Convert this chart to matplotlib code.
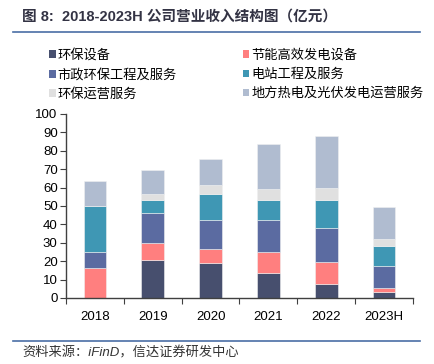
import numpy as np
import matplotlib
matplotlib.use("Agg")
import matplotlib.pyplot as plt
from matplotlib.patches import Patch
from matplotlib.lines import Line2D

plt.rcParams['font.family'] = ['Liberation Sans', 'Noto Sans CJK SC', 'DejaVu Sans']

# 数据（亿元）
years = ['2018', '2019', '2020', '2021', '2022', '2023H']
series_names = ['环保设备', '节能高效发电设备', '市政环保工程及服务',
                '电站工程及服务', '环保运营服务', '地方热电及光伏发电运营服务']
env_equip = [0.0, 20.7, 19.2, 13.8, 7.8, 3.4]
power_equip = [16.5, 9.2, 7.4, 11.0, 11.6, 2.2]
municipal = [8.7, 16.5, 15.6, 17.8, 18.5, 11.6]
station = [25.0, 7.0, 14.5, 10.7, 15.5, 11.2]
operation = [0.0, 3.1, 4.7, 5.9, 6.4, 3.7]
local_power = [13.6, 12.9, 14.3, 24.3, 28.1, 17.5]
colors = ['#474f6e', '#ff7f7f', '#5b6ba1', '#3f97b4', '#e0e0e0', '#b0bcd0']

data = [env_equip, power_equip, municipal, station, operation, local_power]

fig = plt.figure(figsize=(4.35, 3.64), dpi=100)
ax = fig.add_axes([66 / 435, 1 - 298 / 364, 347 / 435, 184 / 364])

x = np.arange(len(years))
bottom = np.zeros(len(years))
for vals, c in zip(data, colors):
    ax.bar(x, vals, width=0.39, bottom=bottom, color=c, edgecolor='#f0f0f0', linewidth=0.4, zorder=2)
    bottom += np.array(vals)

ax.set_xlim(-0.5, len(years) - 0.5)
ax.set_ylim(0, 100)
ax.set_yticks(range(0, 101, 10))
ax.set_xticks(x)
ax.set_xticklabels(years)
ax.set_xticks(np.arange(-0.5, len(years)), minor=True)
ax.tick_params(axis='x', which='major', length=0, pad=9, labelsize=9.5)
ax.tick_params(axis='x', which='minor', length=4, width=0.8, direction='out', color='#404040')
ax.tick_params(axis='y', length=4, width=0.8, direction='out', color='#404040', labelsize=9.5, pad=2)
for s in ['top', 'right']:
    ax.spines[s].set_visible(False)
for s in ['left', 'bottom']:
    ax.spines[s].set_color('#404040')
    ax.spines[s].set_linewidth(1.0)

# 图例
order = [0, 2, 4, 1, 3, 5]
handles = [Patch(facecolor=colors[i], edgecolor='none') for i in order]
labels = [series_names[i] for i in order]
fig.legend(handles, labels, ncol=2, loc='upper left', bbox_to_anchor=(49 / 435, 1 - 49 / 364),
           frameon=False, fontsize=9.5, handlelength=0.5, handleheight=0.5, handletextpad=0.15,
           columnspacing=5.0, labelspacing=0.5, borderaxespad=0, borderpad=0)

# 标题与来源
fig.text(22 / 435, 1 - 17 / 364, '图 8:  2018-2023H 公司营业收入结构图（亿元）', fontsize=10.5,
         fontweight='bold', color='#333344', va='center', ha='left')
fig.add_artist(Line2D([13 / 435, 420 / 435], [1 - 32 / 364, 1 - 32 / 364], color='#4a6ea5', lw=1.2))
fig.add_artist(Line2D([13 / 435, 420 / 435], [1 - 341 / 364, 1 - 341 / 364], color='#4a6ea5', lw=1.2))
fig.text(22 / 435, 1 - 353 / 364, '资料来源：iFinD，信达证券研发中心', fontsize=9.5,
         style='italic', color='#333333', va='center', ha='left')

fig.savefig('out.png', dpi=100)
